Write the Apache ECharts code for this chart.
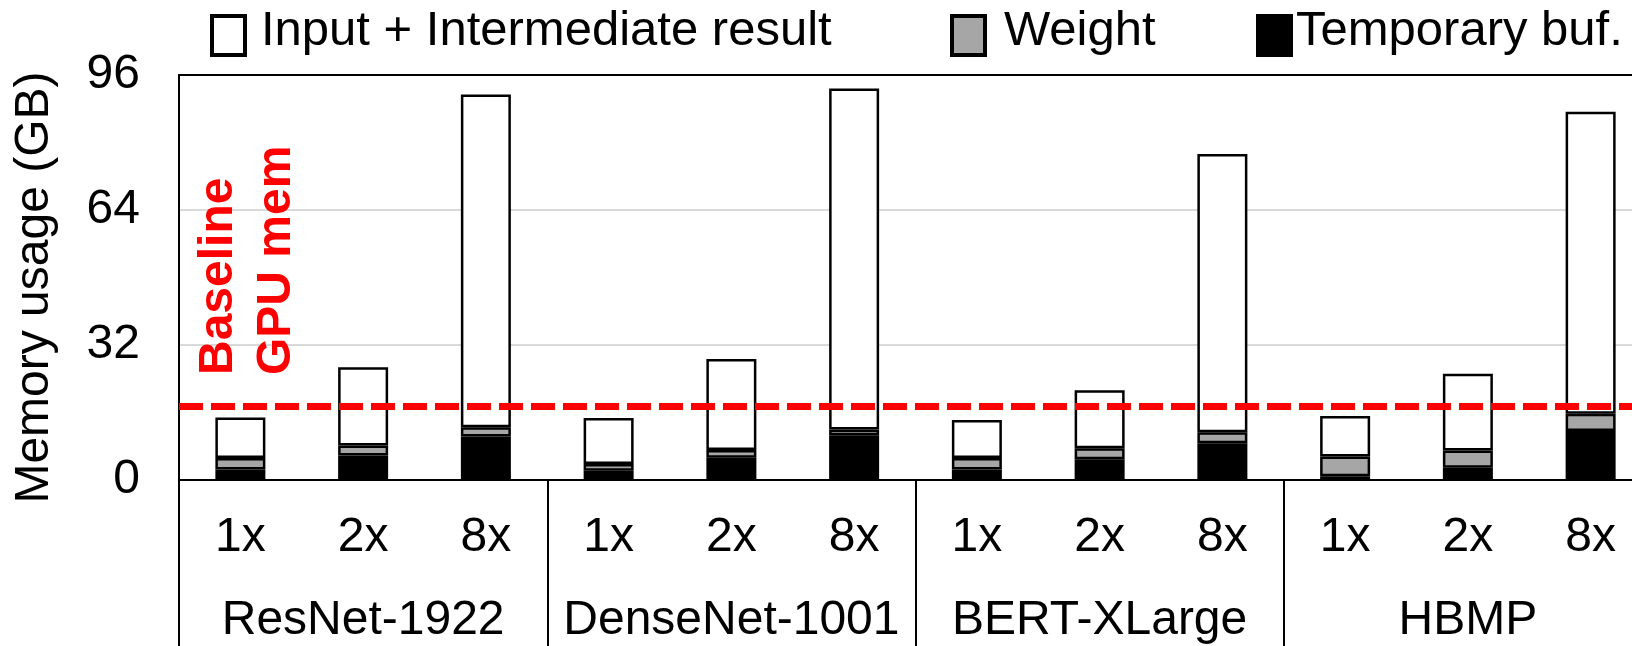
<!DOCTYPE html>
<html>
<head>
<meta charset="utf-8">
<script src="https://cdn.jsdelivr.net/npm/echarts@6/dist/echarts.min.js"></script>
<style>
html,body{margin:0;padding:0;background:#fff;overflow:hidden;width:1632px;height:646px;}
#chart{width:1652px;height:646px;}
</style>
</head>
<body>
<div id="chart"></div>
<script>
const scales = ['1x','2x','8x','1x','2x','8x','1x','2x','8x','1x','2x','8x'];
const models = ['ResNet-1922','DenseNet-1001','BERT-XLarge','HBMP'];
const tempBuf = [2.5, 5.8, 10.3, 2.2, 5.3, 10.6, 2.5, 4.9, 8.7, 0.9, 2.9, 11.6];
const weight  = [2.7, 2.4, 2.2, 1.6, 1.8, 1.4, 2.7, 2.6, 2.6, 4.7, 4.1, 4.1];
const inputInter = [9.6, 18.5, 78.9, 10.9, 21.6, 80.8, 9.0, 13.8, 66.0, 9.6, 18.2, 71.6];
const baselineGPU = 17.4;
const yTicks = {min: 0, max: 96, interval: 32};

const FONT = 'Liberation Sans, Arial, sans-serif';
const FS = 48;
const LFS = 49;
const chart = echarts.init(document.getElementById('chart'), null, {renderer: 'canvas'});

function legendOf(name, left, padLeft) {
  return {
    data: [name], left: left, top: 7, padding: 0,
    itemWidth: 33, itemHeight: 39, icon: 'rect',
    selectedMode: false,
    itemStyle: {borderColor: '#000', borderWidth: 4},
    formatter: '{t|{name}}',
    textStyle: {
      fontFamily: FONT, fontSize: LFS, color: '#000',
      rich: {t: {fontFamily: FONT, fontSize: LFS, color: '#000', lineHeight: 20, padding: [0, 0, 8, padLeft]}}
    }
  };
}

const barBase = {
  type: 'bar', stack: 'mem', barWidth: 50, xAxisIndex: 0, yAxisIndex: 0
};

chart.setOption({
  animation: false,
  backgroundColor: '#fff',
  textStyle: {fontFamily: FONT},
  legend: [
    legendOf('Input + Intermediate result', 210, 11),
    legendOf('Weight', 950, 14),
    legendOf('Temporary buf.', 1256, 0)
  ],
  grid: {left: 179, top: 75, right: 0, bottom: 166, containLabel: false},
  xAxis: [
    {
      type: 'category', data: scales, position: 'bottom',
      axisLine: {show: true, lineStyle: {color: '#000', width: 2}},
      axisTick: {show: false},
      axisLabel: {interval: 0, fontSize: FS, color: '#000', margin: 34, fontFamily: FONT}
    },
    {
      type: 'category', data: models, position: 'bottom',
      axisLine: {show: false},
      axisTick: {show: true, length: 166, interval: 0, lineStyle: {color: '#000', width: 2}},
      axisLabel: {interval: 0, fontSize: FS, color: '#000', margin: 117, fontFamily: FONT}
    },
    {
      type: 'category', data: scales, position: 'top',
      axisLine: {show: true, lineStyle: {color: '#000', width: 2}},
      axisTick: {show: false}, axisLabel: {show: false}
    }
  ],
  yAxis: {
    type: 'value', min: yTicks.min, max: yTicks.max, interval: yTicks.interval,
    axisLine: {show: true, lineStyle: {color: '#000', width: 2}},
    axisTick: {show: false},
    splitLine: {show: true, lineStyle: {color: '#d9d9d9', width: 2}},
    axisLabel: {fontSize: FS, color: '#000', margin: 39, fontFamily: FONT}
  },
  series: [
    Object.assign({}, barBase, {
      name: 'Temporary buf.', data: tempBuf,
      itemStyle: {color: '#000', borderColor: '#000', borderWidth: 2.5},
      markLine: {
        silent: true, symbol: ['none', 'none'],
        label: {show: false},
        lineStyle: {color: '#ff0000', width: 7, type: [24, 8]},
        data: [{yAxis: baselineGPU}]
      }
    }),
    Object.assign({}, barBase, {
      name: 'Weight', data: weight,
      itemStyle: {color: '#a6a6a6', borderColor: '#000', borderWidth: 2.5}
    }),
    Object.assign({}, barBase, {
      name: 'Input + Intermediate result', data: inputInter,
      itemStyle: {color: '#fff', borderColor: '#000', borderWidth: 2.5}
    })
  ],
  graphic: [
    {
      type: 'text', x: 35, y: 287.5, rotation: Math.PI / 2,
      style: {text: 'Memory usage (GB)', fontFamily: FONT, fontSize: FS, fill: '#000',
              align: 'center', verticalAlign: 'middle'}
    },
    {
      type: 'text', x: 218.5, y: 375, rotation: Math.PI / 2, z: 100,
      style: {text: 'Baseline', fontFamily: FONT, fontSize: FS, fontWeight: 'bold', fill: '#ff0000',
              align: 'left', verticalAlign: 'middle'}
    },
    {
      type: 'text', x: 276.5, y: 375, rotation: Math.PI / 2, z: 100,
      style: {text: 'GPU mem', fontFamily: FONT, fontSize: FS, fontWeight: 'bold', fill: '#ff0000',
              align: 'left', verticalAlign: 'middle'}
    }
  ]
});
</script>
</body>
</html>
